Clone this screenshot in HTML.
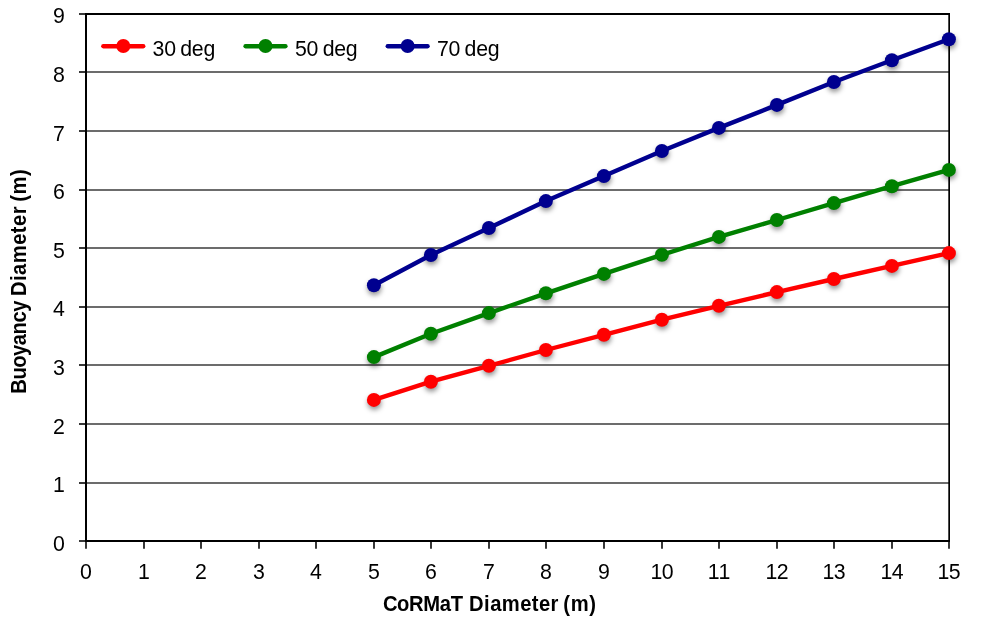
<!DOCTYPE html>
<html lang="en">
<head>
<meta charset="utf-8">
<title>Buoyancy Diameter vs CoRMaT Diameter</title>
<style>
html,body{margin:0;padding:0;background:#fff;}
body{width:984px;height:619px;overflow:hidden;}
svg{display:block;}
text{white-space:pre;font-family:"Liberation Sans",sans-serif;fill:#000;}
.tick{font-size:21.3px;}
.leg{word-spacing:-1.2px;letter-spacing:-0.25px;}
.ttl{font-size:20.2px;font-weight:bold;}
</style>
</head>
<body>
<svg width="984" height="619" viewBox="0 0 984 619">
<defs>
<filter id="sh" x="-5%" y="-10%" width="110%" height="120%">
<feGaussianBlur stdDeviation="2.8"/>
</filter>
</defs>
<rect x="0" y="0" width="984" height="619" fill="#fff"/>

<g stroke="#6c6c6c" stroke-width="2" fill="none" shape-rendering="crispEdges">
<line x1="86" y1="483.00" x2="949" y2="483.00"/>
<line x1="86" y1="424.00" x2="949" y2="424.00"/>
<line x1="86" y1="365.00" x2="949" y2="365.00"/>
<line x1="86" y1="307.00" x2="949" y2="307.00"/>
<line x1="86" y1="248.00" x2="949" y2="248.00"/>
<line x1="86" y1="190.00" x2="949" y2="190.00"/>
<line x1="86" y1="131.00" x2="949" y2="131.00"/>
<line x1="86" y1="72.00" x2="949" y2="72.00"/>
</g>
<path d="M86 14 H950" stroke="#000" stroke-width="2" fill="none"/>
<path d="M949.15 14 V541.00" stroke="#000" stroke-width="1.7" fill="none"/>
<g stroke="#222" stroke-width="1.8" fill="none">
<line x1="79" y1="541.00" x2="86" y2="541.00"/>
<line x1="79" y1="483.00" x2="86" y2="483.00"/>
<line x1="79" y1="424.00" x2="86" y2="424.00"/>
<line x1="79" y1="365.00" x2="86" y2="365.00"/>
<line x1="79" y1="307.00" x2="86" y2="307.00"/>
<line x1="79" y1="248.00" x2="86" y2="248.00"/>
<line x1="79" y1="190.00" x2="86" y2="190.00"/>
<line x1="79" y1="131.00" x2="86" y2="131.00"/>
<line x1="79" y1="72.00" x2="86" y2="72.00"/>
<line x1="79" y1="14.00" x2="86" y2="14.00"/>
<line x1="86.00" y1="541.00" x2="86.00" y2="548.8"/>
<line x1="144.00" y1="541.00" x2="144.00" y2="548.8"/>
<line x1="201.00" y1="541.00" x2="201.00" y2="548.8"/>
<line x1="259.00" y1="541.00" x2="259.00" y2="548.8"/>
<line x1="316.00" y1="541.00" x2="316.00" y2="548.8"/>
<line x1="374.00" y1="541.00" x2="374.00" y2="548.8"/>
<line x1="431.00" y1="541.00" x2="431.00" y2="548.8"/>
<line x1="489.00" y1="541.00" x2="489.00" y2="548.8"/>
<line x1="546.00" y1="541.00" x2="546.00" y2="548.8"/>
<line x1="604.00" y1="541.00" x2="604.00" y2="548.8"/>
<line x1="662.00" y1="541.00" x2="662.00" y2="548.8"/>
<line x1="719.00" y1="541.00" x2="719.00" y2="548.8"/>
<line x1="777.00" y1="541.00" x2="777.00" y2="548.8"/>
<line x1="834.00" y1="541.00" x2="834.00" y2="548.8"/>
<line x1="892.00" y1="541.00" x2="892.00" y2="548.8"/>
<line x1="949.00" y1="541.00" x2="949.00" y2="548.8"/>
</g>
<g stroke="#000" stroke-width="2" fill="none">
<line x1="86" y1="13" x2="86" y2="542.00"/>
<line x1="85" y1="541.00" x2="950" y2="541.00"/>
</g>
<g class="tick" text-anchor="end">
<text x="64.8" y="551.10">0</text>
<text x="64.8" y="492.10">1</text>
<text x="64.8" y="434.10">2</text>
<text x="64.8" y="375.10">3</text>
<text x="64.8" y="316.10">4</text>
<text x="64.8" y="258.10">5</text>
<text x="64.8" y="199.10">6</text>
<text x="64.8" y="141.10">7</text>
<text x="64.8" y="82.10">8</text>
<text x="64.8" y="23.10">9</text>
</g>
<g class="tick" text-anchor="middle">
<text x="86.00" y="579.2">0</text>
<text x="144.00" y="579.2">1</text>
<text x="201.00" y="579.2">2</text>
<text x="259.00" y="579.2">3</text>
<text x="316.00" y="579.2">4</text>
<text x="374.00" y="579.2">5</text>
<text x="431.00" y="579.2">6</text>
<text x="489.00" y="579.2">7</text>
<text x="546.00" y="579.2">8</text>
<text x="604.00" y="579.2">9</text>
<text x="661.70" y="579.2" style="letter-spacing:-0.6px">10</text>
<text x="719.20" y="579.2" style="letter-spacing:0.4px">11</text>
<text x="776.70" y="579.2" style="letter-spacing:-0.6px">12</text>
<text x="833.70" y="579.2" style="letter-spacing:-0.6px">13</text>
<text x="891.70" y="579.2" style="letter-spacing:-0.6px">14</text>
<text x="948.70" y="579.2" style="letter-spacing:-0.6px">15</text>
</g>
<text class="ttl" transform="translate(0 611.45) scale(1 1.055)" y="0"><tspan x="382.9" style="letter-spacing:-0.35px">CoRMaT </tspan><tspan x="469.1" style="letter-spacing:0.42px">Diameter </tspan><tspan x="563.3" style="letter-spacing:0.65px">(m)</tspan></text>
<text class="ttl" transform="translate(26.4 0) rotate(-90) scale(1 1.055)"><tspan x="-393.7" style="letter-spacing:-0.48px">Buoyancy </tspan><tspan x="-296.0" style="letter-spacing:0.45px">Diameter </tspan><tspan x="-201.8" style="letter-spacing:0.6px">(m)</tspan></text>
<g filter="url(#sh)" fill="#000" fill-opacity="0.42">
<circle cx="374.40" cy="402.90" r="7"/>
<circle cx="431.40" cy="384.70" r="7"/>
<circle cx="489.40" cy="368.80" r="7"/>
<circle cx="546.40" cy="353.00" r="7"/>
<circle cx="604.40" cy="337.80" r="7"/>
<circle cx="662.40" cy="322.70" r="7"/>
<circle cx="719.40" cy="308.80" r="7"/>
<circle cx="777.40" cy="295.10" r="7"/>
<circle cx="834.40" cy="282.00" r="7"/>
<circle cx="892.40" cy="268.90" r="7"/>
<circle cx="949.40" cy="256.10" r="7"/>
<circle cx="374.40" cy="360.10" r="7"/>
<circle cx="431.40" cy="336.70" r="7"/>
<circle cx="489.40" cy="316.10" r="7"/>
<circle cx="546.40" cy="296.30" r="7"/>
<circle cx="604.40" cy="276.90" r="7"/>
<circle cx="662.40" cy="257.80" r="7"/>
<circle cx="719.40" cy="239.90" r="7"/>
<circle cx="777.40" cy="223.00" r="7"/>
<circle cx="834.40" cy="206.10" r="7"/>
<circle cx="892.40" cy="189.20" r="7"/>
<circle cx="949.40" cy="172.90" r="7"/>
<circle cx="374.40" cy="288.20" r="7"/>
<circle cx="431.40" cy="258.00" r="7"/>
<circle cx="489.40" cy="231.00" r="7"/>
<circle cx="546.40" cy="204.10" r="7"/>
<circle cx="604.40" cy="179.10" r="7"/>
<circle cx="662.40" cy="154.00" r="7"/>
<circle cx="719.40" cy="130.90" r="7"/>
<circle cx="777.40" cy="107.90" r="7"/>
<circle cx="834.40" cy="85.00" r="7"/>
<circle cx="892.40" cy="63.20" r="7"/>
<circle cx="949.40" cy="42.20" r="7"/>
</g>
<polyline points="373.90,399.90 430.90,381.70 488.90,365.80 545.90,350.00 603.90,334.80 661.90,319.70 718.90,305.80 776.90,292.10 833.90,279.00 891.90,265.90 948.90,253.10" fill="none" stroke="#ff0000" stroke-width="4.4" stroke-linejoin="round" stroke-linecap="round"/>
<g fill="#ff0000">
<circle cx="373.90" cy="399.90" r="7"/>
<circle cx="430.90" cy="381.70" r="7"/>
<circle cx="488.90" cy="365.80" r="7"/>
<circle cx="545.90" cy="350.00" r="7"/>
<circle cx="603.90" cy="334.80" r="7"/>
<circle cx="661.90" cy="319.70" r="7"/>
<circle cx="718.90" cy="305.80" r="7"/>
<circle cx="776.90" cy="292.10" r="7"/>
<circle cx="833.90" cy="279.00" r="7"/>
<circle cx="891.90" cy="265.90" r="7"/>
<circle cx="948.90" cy="253.10" r="7"/>
</g>
<polyline points="373.90,357.10 430.90,333.70 488.90,313.10 545.90,293.30 603.90,273.90 661.90,254.80 718.90,236.90 776.90,220.00 833.90,203.10 891.90,186.20 948.90,169.90" fill="none" stroke="#008000" stroke-width="4.4" stroke-linejoin="round" stroke-linecap="round"/>
<g fill="#008000">
<circle cx="373.90" cy="357.10" r="7"/>
<circle cx="430.90" cy="333.70" r="7"/>
<circle cx="488.90" cy="313.10" r="7"/>
<circle cx="545.90" cy="293.30" r="7"/>
<circle cx="603.90" cy="273.90" r="7"/>
<circle cx="661.90" cy="254.80" r="7"/>
<circle cx="718.90" cy="236.90" r="7"/>
<circle cx="776.90" cy="220.00" r="7"/>
<circle cx="833.90" cy="203.10" r="7"/>
<circle cx="891.90" cy="186.20" r="7"/>
<circle cx="948.90" cy="169.90" r="7"/>
</g>
<polyline points="373.90,285.20 430.90,255.00 488.90,228.00 545.90,201.10 603.90,176.10 661.90,151.00 718.90,127.90 776.90,104.90 833.90,82.00 891.90,60.20 948.90,39.20" fill="none" stroke="#00008f" stroke-width="4.4" stroke-linejoin="round" stroke-linecap="round"/>
<g fill="#00008f">
<circle cx="373.90" cy="285.20" r="7"/>
<circle cx="430.90" cy="255.00" r="7"/>
<circle cx="488.90" cy="228.00" r="7"/>
<circle cx="545.90" cy="201.10" r="7"/>
<circle cx="603.90" cy="176.10" r="7"/>
<circle cx="661.90" cy="151.00" r="7"/>
<circle cx="718.90" cy="127.90" r="7"/>
<circle cx="776.90" cy="104.90" r="7"/>
<circle cx="833.90" cy="82.00" r="7"/>
<circle cx="891.90" cy="60.20" r="7"/>
<circle cx="948.90" cy="39.20" r="7"/>
</g>
<g>
<g><line x1="103.30" y1="46.25" x2="143.30" y2="46.25" stroke="#ff0000" stroke-width="4.3" stroke-linecap="round"/><circle cx="123.30" cy="46" r="7" fill="#ff0000"/></g>
<text class="tick leg" x="152.60" y="55.8">30 deg</text>
<g><line x1="245.50" y1="46.25" x2="285.50" y2="46.25" stroke="#008000" stroke-width="4.3" stroke-linecap="round"/><circle cx="265.50" cy="46" r="7" fill="#008000"/></g>
<text class="tick leg" x="295.00" y="55.8">50 deg</text>
<g><line x1="387.70" y1="46.25" x2="427.60" y2="46.25" stroke="#00008f" stroke-width="4.3" stroke-linecap="round"/><circle cx="407.65" cy="46" r="7" fill="#00008f"/></g>
<text class="tick leg" x="436.90" y="55.8">70 deg</text>
</g>
</svg>
</body>
</html>
